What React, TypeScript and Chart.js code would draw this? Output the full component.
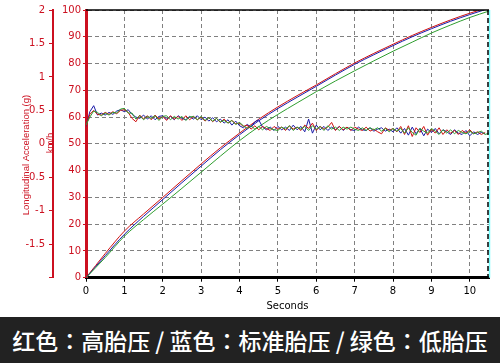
import React, { useEffect, useRef } from 'react';
import { Chart, registerables } from 'chart.js';

Chart.register(...registerables);

// ---- data ----
const xTickValues = [0, 1, 2, 3, 4, 5, 6, 7, 8, 9, 10];
const speedTickValues = [0, 10, 20, 30, 40, 50, 60, 70, 80, 90, 100];
const accelTickValues = [-2, -1.5, -1, -0.5, 0, 0.5, 1, 1.5, 2];

const speedTimes = [0, 0.5, 1, 1.5, 2, 2.5, 3, 3.5, 4, 4.5, 5, 5.5, 6, 6.5, 7, 7.5, 8, 8.5, 9, 9.5, 10, 10.5];
const speedRed = [0, 9, 17.4, 23.8, 30, 36.3, 42.5, 48.5, 54, 59.2, 63.8, 68, 72, 76.2, 80.2, 83.8, 87.2, 90.5, 93.5, 96.3, 98.8, 101];
const speedBlue = [0, 8.2, 16.2, 22.9, 29.2, 35.5, 41.7, 47.8, 53.4, 58.6, 63.2, 67.4, 71.5, 75.7, 79.7, 83.3, 86.7, 90, 93, 95.8, 98.3, 100.6];
const speedGreen = [0, 7.5, 15.5, 21.7, 27.5, 33.4, 39.4, 45.4, 51.2, 56.4, 61, 65.3, 69.5, 73.5, 77.3, 81, 84.6, 88, 91.4, 94.4, 97.2, 99.6];

const accelTimes = [
  0, 0.1, 0.2, 0.3, 0.4, 0.5, 0.6, 0.7, 0.8, 0.9,
  1, 1.1, 1.2, 1.3, 1.4, 1.5, 1.6, 1.7, 1.8, 1.9,
  2, 2.1, 2.2, 2.3, 2.4, 2.5, 2.6, 2.7, 2.8, 2.9,
  3, 3.1, 3.2, 3.3, 3.4, 3.5, 3.6, 3.7, 3.8, 3.9,
  4, 4.1, 4.2, 4.3, 4.4, 4.5, 4.6, 4.7, 4.8, 4.9,
  5, 5.1, 5.2, 5.3, 5.4, 5.5, 5.6, 5.7, 5.8, 5.9,
  6, 6.1, 6.2, 6.3, 6.4, 6.5, 6.6, 6.7, 6.8, 6.9,
  7, 7.1, 7.2, 7.3, 7.4, 7.5, 7.6, 7.7, 7.8, 7.9,
  8, 8.1, 8.2, 8.3, 8.4, 8.5, 8.6, 8.7, 8.8, 8.9,
  9, 9.1, 9.2, 9.3, 9.4, 9.5, 9.6, 9.7, 9.8, 9.9,
  10, 10.1, 10.2, 10.3, 10.4, 10.5,
];
const accelRed = [
  0.27, 0.44, 0.50, 0.44, 0.43, 0.47, 0.44, 0.48, 0.45, 0.50,
  0.51, 0.47, 0.38, 0.33, 0.43, 0.37, 0.42, 0.36, 0.43, 0.37,
  0.41, 0.35, 0.42, 0.37, 0.41, 0.35, 0.42, 0.36, 0.41, 0.36,
  0.40, 0.34, 0.39, 0.33, 0.38, 0.32, 0.37, 0.31, 0.35, 0.30,
  0.31, 0.26, 0.28, 0.22, 0.27, 0.21, 0.26, 0.23, 0.20, 0.26,
  0.22, 0.25, 0.20, 0.27, 0.22, 0.25, 0.20, 0.28, 0.23, 0.31,
  0.20, 0.26, 0.22, 0.25, 0.32, 0.20, 0.26, 0.21, 0.25, 0.20,
  0.25, 0.22, 0.20, 0.25, 0.19, 0.22, 0.18, 0.15, 0.24, 0.20,
  0.23, 0.18, 0.26, 0.14, 0.27, 0.11, 0.24, 0.17, 0.26, 0.13,
  0.22, 0.16, 0.24, 0.14, 0.21, 0.16, 0.20, 0.14, 0.20, 0.16,
  0.21, 0.15, 0.18, 0.14, 0.17,
];
const accelBlue = [
  0.26, 0.48, 0.57, 0.43, 0.46, 0.43, 0.47, 0.44, 0.49, 0.51,
  0.48, 0.51, 0.44, 0.40, 0.38, 0.43, 0.37, 0.42, 0.36, 0.41,
  0.42, 0.37, 0.41, 0.36, 0.42, 0.38, 0.36, 0.41, 0.37, 0.42,
  0.36, 0.40, 0.34, 0.39, 0.33, 0.37, 0.31, 0.36, 0.28, 0.34,
  0.27, 0.24, 0.29, 0.25, 0.33, 0.36, 0.25, 0.21, 0.25, 0.20,
  0.26, 0.21, 0.25, 0.20, 0.28, 0.21, 0.26, 0.18, 0.37, 0.16,
  0.28, 0.21, 0.26, 0.20, 0.25, 0.21, 0.26, 0.20, 0.25, 0.21,
  0.20, 0.25, 0.21, 0.20, 0.24, 0.19, 0.22, 0.24, 0.19, 0.22,
  0.18, 0.24, 0.16, 0.23, 0.13, 0.25, 0.15, 0.23, 0.12, 0.22,
  0.17, 0.23, 0.15, 0.21, 0.18, 0.14, 0.21, 0.16, 0.14, 0.20,
  0.12, 0.18, 0.14, 0.17, 0.15,
];
const accelGreen = [
  0.28, 0.40, 0.49, 0.47, 0.42, 0.46, 0.43, 0.47, 0.46, 0.52,
  0.53, 0.46, 0.46, 0.37, 0.42, 0.36, 0.41, 0.38, 0.42, 0.35,
  0.41, 0.42, 0.36, 0.41, 0.37, 0.41, 0.35, 0.40, 0.41, 0.36,
  0.41, 0.35, 0.39, 0.34, 0.38, 0.33, 0.35, 0.31, 0.35, 0.29,
  0.32, 0.27, 0.23, 0.27, 0.22, 0.26, 0.21, 0.26, 0.23, 0.21,
  0.20, 0.25, 0.22, 0.27, 0.20, 0.25, 0.22, 0.26, 0.20, 0.27,
  0.22, 0.26, 0.20, 0.27, 0.22, 0.25, 0.20, 0.25, 0.22, 0.25,
  0.22, 0.20, 0.24, 0.20, 0.24, 0.21, 0.24, 0.19, 0.23, 0.18,
  0.23, 0.19, 0.23, 0.16, 0.24, 0.17, 0.13, 0.23, 0.19, 0.16,
  0.23, 0.19, 0.14, 0.21, 0.16, 0.21, 0.15, 0.20, 0.17, 0.15,
  0.19, 0.15, 0.17, 0.19, 0.14, 0.16,
];

const bannerText = '红色：高胎压 / 蓝色：标准胎压 / 绿色：低胎压';
const xTitle = 'Seconds';
const accelTitle = 'Longitudinal Acceleration (g)';
const speedTitle = 'km/h';

// ---- styles ----
const RED = '#d01010';
const BLUE = '#1a1aa8';
const GREEN = '#2f9e2f';
const AXIS_RED = '#cc1020';
const TICK_FONT = { family: '"DejaVu Sans", sans-serif', size: 10 };

const zip = (xs: number[], ys: number[]) => ys.map((y, i) => ({ x: xs[i], y }));

const framePlugin = {
  id: 'frame',
  afterDraw(chart: any) {
    const { ctx, chartArea } = chart;
    const { left, right, top, bottom } = chartArea;
    ctx.save();
    ctx.strokeStyle = '#000';
    ctx.lineWidth = 1.5;
    ctx.setLineDash([]);
    ctx.beginPath();
    ctx.moveTo(left, top);
    ctx.lineTo(right, top);
    ctx.stroke();
    ctx.strokeStyle = '#7ff';
    ctx.lineWidth = 1.5;
    ctx.beginPath();
    ctx.moveTo(right + 0.5, top);
    ctx.lineTo(right + 0.5, bottom);
    ctx.stroke();
    ctx.strokeStyle = '#000';
    ctx.lineWidth = 1.5;
    ctx.setLineDash([5, 3]);
    ctx.beginPath();
    ctx.moveTo(right - 1, top);
    ctx.lineTo(right - 1, bottom);
    ctx.stroke();
    ctx.setLineDash([]);
    ctx.fillStyle = AXIS_RED;
    ctx.textAlign = 'center';
    ctx.textBaseline = 'middle';
    ctx.font = '9.5px "Liberation Sans", Arial, sans-serif';
    ctx.translate(26, 155);
    ctx.rotate(-Math.PI / 2);
    ctx.fillText(accelTitle, 0, 0);
    ctx.restore();
    ctx.save();
    ctx.fillStyle = AXIS_RED;
    ctx.textAlign = 'center';
    ctx.textBaseline = 'middle';
    ctx.font = '9.5px "Liberation Sans", Arial, sans-serif';
    ctx.translate(50, 143);
    ctx.rotate(-Math.PI / 2);
    ctx.fillText(speedTitle, 0, 0);
    ctx.restore();
  },
};

export default function App() {
  const canvasRef = useRef<HTMLCanvasElement | null>(null);

  useEffect(() => {
    document.body.style.margin = '0';
    const canvas = canvasRef.current;
    if (!canvas) return;
    const lineDs = (label: string, data: any[], color: string, axis: string) => ({
      label,
      data,
      borderColor: color,
      backgroundColor: color,
      borderWidth: 1,
      pointRadius: 0,
      fill: false,
      yAxisID: axis,
      cubicInterpolationMode: axis === 'yv' ? 'monotone' : 'default',
      tension: 0,
    });
    const chart = new Chart(canvas, {
      type: 'line',
      data: {
        datasets: [
          lineDs('accel green', zip(accelTimes, accelGreen), GREEN, 'ya'),
          lineDs('accel red', zip(accelTimes, accelRed), RED, 'ya'),
          lineDs('accel blue', zip(accelTimes, accelBlue), BLUE, 'ya'),
          lineDs('speed green', zip(speedTimes, speedGreen), GREEN, 'yv'),
          lineDs('speed blue', zip(speedTimes, speedBlue), BLUE, 'yv'),
          lineDs('speed red', zip(speedTimes, speedRed), RED, 'yv'),
        ] as any,
      },
      options: {
        animation: false,
        responsive: false,
        maintainAspectRatio: false,
        layout: { padding: { top: 9, right: 11, left: 0, bottom: 0 } },
        plugins: { legend: { display: false }, tooltip: { enabled: false } },
        scales: {
          x: {
            type: 'linear',
            min: 0,
            max: 10.5,
            afterBuildTicks: (s: any) => {
              s.ticks = xTickValues.map((v) => ({ value: v }));
            },
            afterFit: (s: any) => {
              s.height = 39.3;
            },
            ticks: { color: '#000', font: TICK_FONT, padding: 4, maxRotation: 0, autoSkip: false },
            grid: { color: '#808080', lineWidth: 1, tickLength: 4, tickColor: '#000', tickBorderDash: [] },
            border: { color: '#000', width: 3, dash: [4, 3] },
            title: { display: true, text: xTitle, color: '#000', font: TICK_FONT, padding: { top: 0, bottom: 5 } },
          },
          ya: {
            type: 'linear',
            position: 'left',
            weight: 2,
            min: -2,
            max: 2,
            afterBuildTicks: (s: any) => {
              s.ticks = accelTickValues.map((v) => ({ value: v }));
            },
            afterFit: (s: any) => {
              s.width = 53;
            },
            ticks: {
              color: AXIS_RED,
              font: TICK_FONT,
              padding: 4,
              autoSkip: false,
              callback: (v: any) => (v === -2 ? '' : String(v)),
            },
            grid: { drawOnChartArea: false, tickLength: 4, tickColor: AXIS_RED, color: AXIS_RED },
            border: { color: AXIS_RED, width: 2 },
          },
          yv: {
            type: 'linear',
            position: 'left',
            weight: 1,
            min: 0,
            max: 100,
            afterBuildTicks: (s: any) => {
              s.ticks = speedTickValues.map((v) => ({ value: v }));
            },
            afterFit: (s: any) => {
              s.width = 33;
            },
            ticks: { color: AXIS_RED, font: TICK_FONT, padding: 2, autoSkip: false },
            grid: { color: '#808080', lineWidth: 1, tickLength: 3, tickColor: AXIS_RED, tickBorderDash: [] },
            border: { color: AXIS_RED, width: 3, dash: [4, 3] },
          },
        },
      } as any,
      plugins: [framePlugin],
    });
    return () => chart.destroy();
  }, []);

  const parts = bannerText.split('：');

  return (
    <div style={{ width: 500, height: 363, background: '#fff', position: 'relative' }}>
      <canvas ref={canvasRef} width={500} height={317} style={{ display: 'block', width: 500, height: 317 }} />
      <div
        style={{
          width: 500,
          height: 46,
          background: '#222',
          color: '#fff',
          fontFamily: '"Noto Sans CJK SC", sans-serif',
          fontWeight: 500,
          fontSize: 23,
          lineHeight: '46px',
          textAlign: 'center',
          whiteSpace: 'nowrap',
          overflow: 'hidden',
        }}
      >
        {parts.map((p, i) => (
          <React.Fragment key={i}>
            {p}
            {i < parts.length - 1 ? (
              <span style={{ fontFamily: '"Noto Sans CJK TC", sans-serif' }}>：</span>
            ) : null}
          </React.Fragment>
        ))}
      </div>
    </div>
  );
}
